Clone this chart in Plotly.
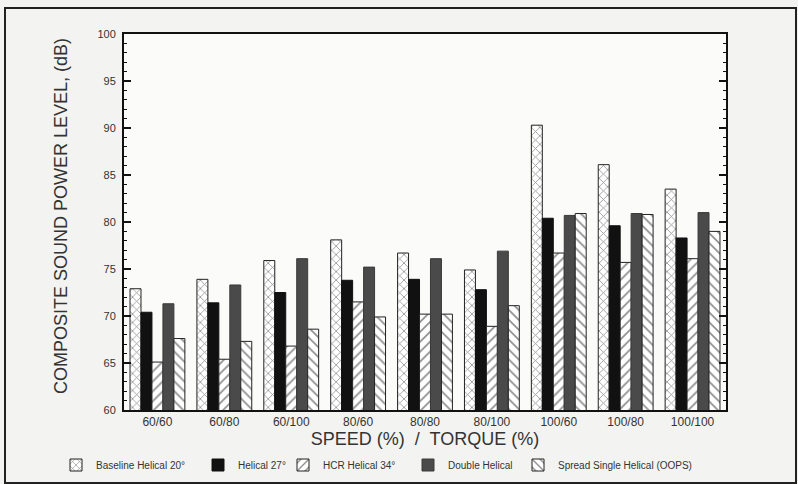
import plotly.graph_objects as go

categories = ["60/60", "60/80", "60/100", "80/60", "80/80", "80/100", "100/60", "100/80", "100/100"]
series_names = ["Baseline Helical 20°", "Helical 27°", "HCR Helical 34°", "Double Helical", "Spread Single Helical (OOPS)"]
baseline_20 = [72.9, 73.9, 75.9, 78.1, 76.7, 74.9, 90.3, 86.1, 83.5]
helical_27 = [70.4, 71.4, 72.5, 73.8, 73.9, 72.8, 80.4, 79.6, 78.3]
hcr_34 = [65.1, 65.4, 66.8, 71.5, 70.2, 68.9, 76.7, 75.7, 76.1]
double_helical = [71.3, 73.3, 76.1, 75.2, 76.1, 76.9, 80.7, 80.9, 81.0]
spread_single = [67.6, 67.3, 68.6, 69.9, 70.2, 71.1, 80.9, 80.8, 79.0]
y_ticks = [60, 65, 70, 75, 80, 85, 90, 95, 100]
y_title = "COMPOSITE SOUND POWER LEVEL, (dB)"
x_title = "SPEED (%)  /  TORQUE (%)"

styles = [
    dict(color="white", line=dict(color="#222", width=1), pattern=dict(shape="x", fgcolor="#222", bgcolor="white", size=6, solidity=0.25)),
    dict(color="#111", line=dict(color="#111", width=1)),
    dict(color="white", line=dict(color="#222", width=1), pattern=dict(shape="/", fgcolor="#222", bgcolor="white", size=7, solidity=0.25)),
    dict(color="#4a4a4a", line=dict(color="#3a3a3a", width=1)),
    dict(color="white", line=dict(color="#222", width=1), pattern=dict(shape="\\", fgcolor="#222", bgcolor="white", size=7, solidity=0.25)),
]
data = [baseline_20, helical_27, hcr_34, double_helical, spread_single]
legend_ids = ["legend", "legend2", "legend3", "legend4", "legend5"]
legend_text_x = [98, 240, 325, 450, 560]

fig = go.Figure()
for name, vals, st, lid in zip(series_names, data, styles, legend_ids):
    fig.add_trace(go.Bar(x=categories, y=vals, name=name, marker=st, legend=lid))

legend_layout = {}
for lid, tx in zip(legend_ids, legend_text_x):
    legend_layout[lid] = dict(
        xref="container", yref="container",
        x=(tx - 42) / 798, xanchor="left",
        y=1 - 465 / 484, yanchor="middle",
        font=dict(size=10, color="#333", family="Liberation Sans, Arial"),
        bgcolor="rgba(0,0,0,0)", borderwidth=0,
    )

fig.update_layout(
    width=798, height=484,
    margin=dict(l=124, r=72, t=34, b=74, autoexpand=False),
    paper_bgcolor="#f3f3f1",
    plot_bgcolor="#fbfbfa",
    barmode="group", bargap=0.18, bargroupgap=0.0,
    font=dict(family="Liberation Sans, Arial", color="#222"),
    showlegend=True,
    xaxis=dict(
        showline=True, linecolor="#111", linewidth=2, mirror=True,
        ticks="", tickfont=dict(size=12, color="#333", family="Liberation Sans, Arial"),
        title=dict(text=x_title, font=dict(size=18, color="#333"), standoff=3),
        showgrid=False,
    ),
    yaxis=dict(
        range=[60, 100], tickvals=y_ticks,
        showline=True, linecolor="#111", linewidth=2, mirror="ticks",
        ticks="inside", ticklen=7, tickwidth=1.5, tickcolor="#111",
        minor=dict(dtick=1, ticks="inside", ticklen=3, tickcolor="#111", tickwidth=1, showgrid=False),
        tickfont=dict(size=11, color="#333", family="Liberation Sans, Arial"),
        ticklabelstandoff=4,
        showgrid=False, zeroline=False,
    ),
    **legend_layout,
)

fig.add_annotation(text=y_title, textangle=-90, xref="paper", yref="paper",
                   x=(61 - 124) / 602, y=(410 - 216) / 376,
                   xanchor="center", yanchor="middle", showarrow=False,
                   font=dict(size=18, color="#333", family="Liberation Sans, Arial"))

fig.add_shape(type="rect", xref="paper", yref="paper",
              x0=(5 - 124) / 602, x1=(796 - 124) / 602,
              y0=(410 - 483) / 376, y1=(410 - 8) / 376,
              line=dict(color="#222", width=2), fillcolor="rgba(0,0,0,0)", layer="below")

fig.write_html("out.html", config={"displayModeBar": False},
               post_script="document.body.style.margin='0';document.body.style.padding='0';document.body.style.overflow='hidden';")
